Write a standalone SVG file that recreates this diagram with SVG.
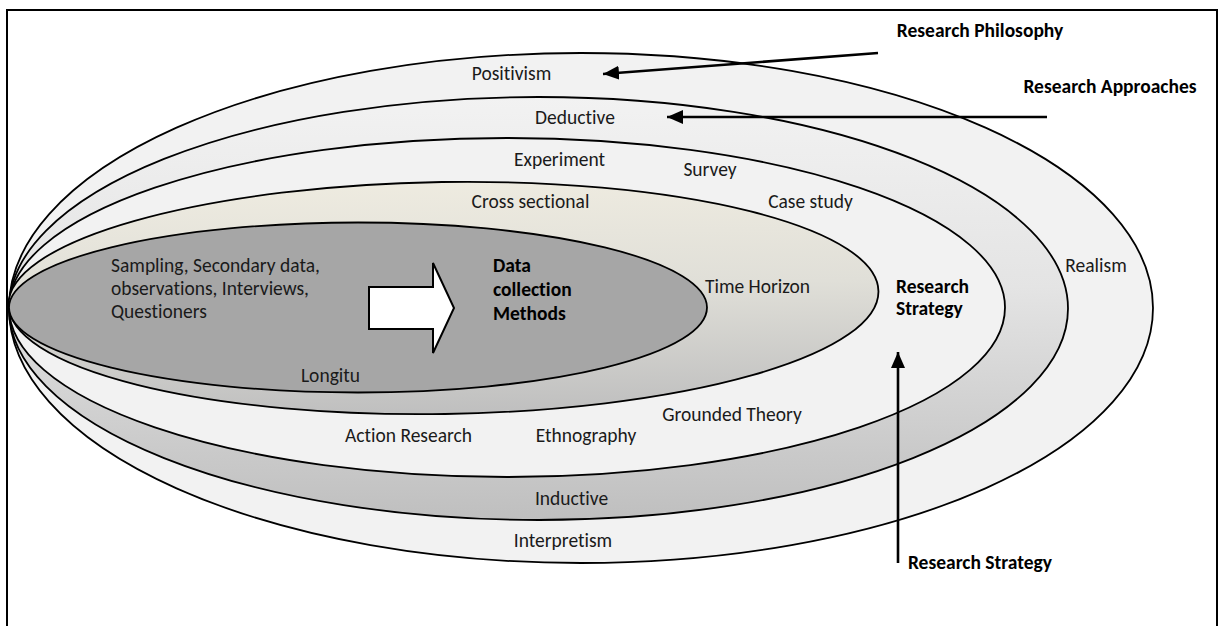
<svg xmlns="http://www.w3.org/2000/svg" width="1219" height="626" viewBox="0 0 1219 626">
  <style>
    .lbl { font-family: Carlito, Calibri, Lato, "Liberation Sans", sans-serif; font-size: 19.5px; fill: #1a1a1a; text-anchor: middle; font-variant-ligatures: none; }
    .bold { font-weight: bold; fill: #000; }
    .start { text-anchor: start; }
    .ring { stroke: #000; stroke-width: 1.8; }
    .conn { stroke: #000; stroke-width: 2.6; fill: none; }
  </style>
  <defs>
    <linearGradient id="approachFill" x1="0" y1="0" x2="0" y2="1">
      <stop offset="0" stop-color="#f2f2f2"/>
      <stop offset="0.45" stop-color="#e4e4e4"/>
      <stop offset="1" stop-color="#bfbfbf"/>
    </linearGradient>
    <linearGradient id="horizonFill" x1="0" y1="0" x2="0" y2="1">
      <stop offset="0" stop-color="#eeebe0"/>
      <stop offset="0.45" stop-color="#e0dfd8"/>
      <stop offset="1" stop-color="#bfbfbf"/>
    </linearGradient>
    <marker id="head" markerUnits="userSpaceOnUse" markerWidth="18" markerHeight="16" refX="16" refY="7" orient="auto">
      <path d="M0,0 L16,7 L0,14 Z" fill="#000"/>
    </marker>
  </defs>

  <rect x="0" y="0" width="1219" height="626" fill="#fff"/>
  <!-- frame -->
  <rect x="7" y="10" width="1210" height="640" fill="none" stroke="#000" stroke-width="2"/>

  <!-- onion layers, outermost first -->
  <g id="philosophy">
    <ellipse class="ring" cx="581" cy="308" rx="572" ry="255" fill="#f2f2f2"/>
  </g>
  <g id="approaches">
    <ellipse class="ring" cx="538.5" cy="308.5" rx="529.5" ry="211.5" fill="url(#approachFill)"/>
  </g>
  <g id="strategy">
    <ellipse class="ring" cx="507" cy="307.5" rx="498" ry="169.5" fill="#f2f2f2"/>
  </g>
  <g id="time-horizon">
    <ellipse class="ring" cx="443.5" cy="298" rx="435" ry="116" transform="rotate(-0.9 443.5 298)" fill="url(#horizonFill)"/>
  </g>
  <g id="data-collection">
    <ellipse class="ring" cx="358" cy="307.5" rx="349" ry="85" fill="#a6a6a6"/>
    <path d="M369,287 H433 V263 L454,308 L433,353 V329 H369 Z" fill="#fff" stroke="#000" stroke-width="2"/>
  </g>

  <!-- layer labels -->
  <g id="layer-labels">
    <text class="lbl" x="511.5" y="80">Positivism</text>
    <text class="lbl" x="575" y="124">Deductive</text>
    <text class="lbl" x="559.5" y="166">Experiment</text>
    <text class="lbl" x="710" y="176">Survey</text>
    <text class="lbl" x="530.5" y="208">Cross sectional</text>
    <text class="lbl" x="810.5" y="208">Case study</text>
    <text class="lbl" x="757.5" y="293">Time Horizon</text>
    <text class="lbl bold start" x="896" y="293">Research</text>
    <text class="lbl bold start" x="896" y="315">Strategy</text>
    <text class="lbl" x="1096" y="272">Realism</text>
    <text class="lbl start" x="111" y="272">Sampling, Secondary data,</text>
    <text class="lbl start" x="111" y="295">observations, Interviews,</text>
    <text class="lbl start" x="111" y="318">Questioners</text>
    <text class="lbl bold start" x="493" y="272">Data</text>
    <text class="lbl bold start" x="493" y="296">collection</text>
    <text class="lbl bold start" x="493" y="320">Methods</text>
    <text class="lbl" x="330.5" y="382">Longitu</text>
    <text class="lbl" x="408.5" y="442">Action Research</text>
    <text class="lbl" x="586" y="442">Ethnography</text>
    <text class="lbl" x="732" y="421">Grounded Theory</text>
    <text class="lbl" x="571.5" y="505">Inductive</text>
    <text class="lbl" x="563" y="547">Interpretism</text>
  </g>

  <!-- pointer arrows -->
  <g id="connectors">
    <line class="conn" x1="878" y1="53" x2="603" y2="74" marker-end="url(#head)"/>
    <line class="conn" x1="1047" y1="117" x2="667" y2="117" marker-end="url(#head)"/>
    <line class="conn" x1="898" y1="563" x2="898" y2="352" marker-end="url(#head)"/>
  </g>

  <g id="callouts">
    <text class="lbl bold" x="980" y="37">Research Philosophy</text>
    <text class="lbl bold" x="1110" y="93">Research Approaches</text>
    <text class="lbl bold" x="980" y="569">Research Strategy</text>
  </g>
</svg>
